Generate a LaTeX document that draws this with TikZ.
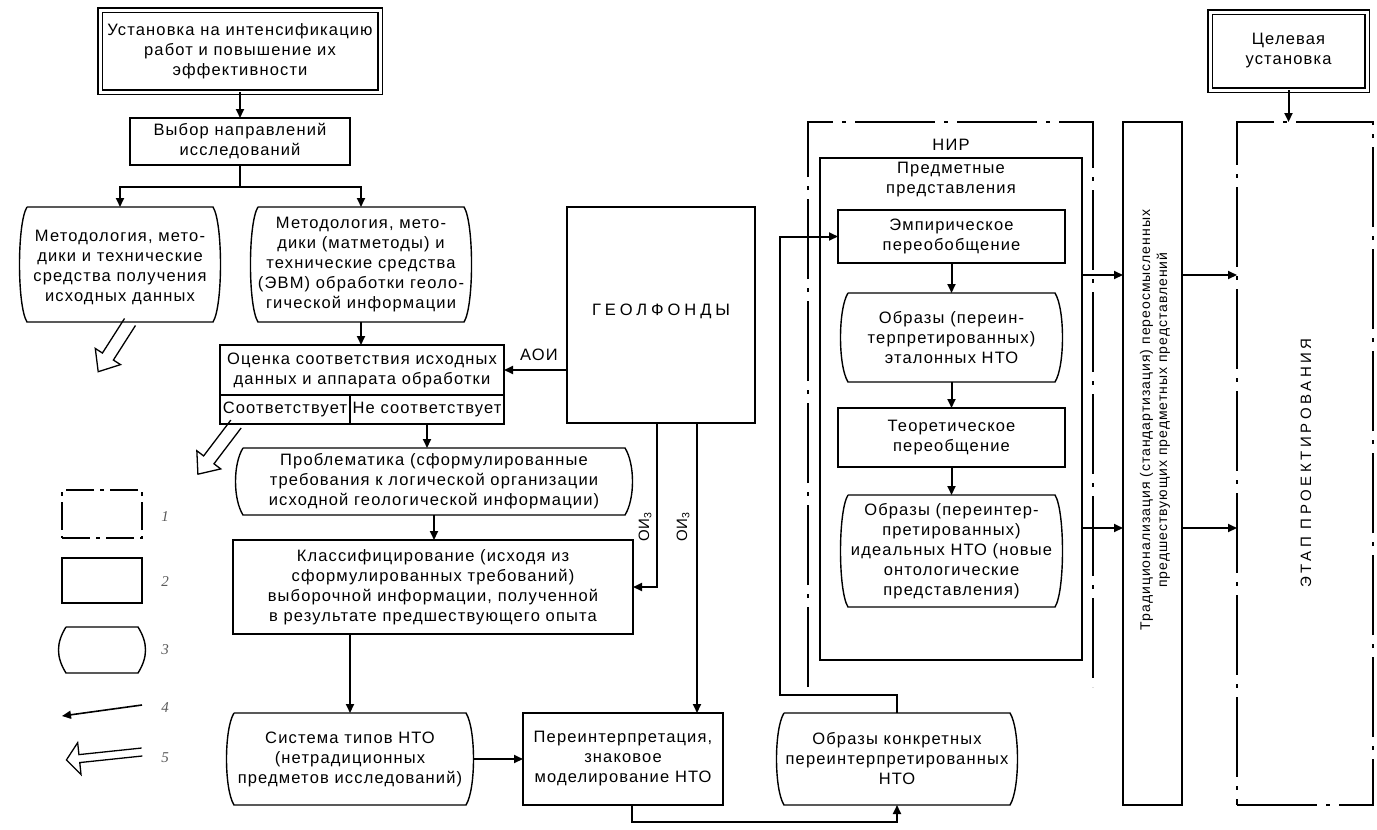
\documentclass[tikz,border=0pt]{standalone}
\usepackage{fontspec}
\setmainfont{Liberation Sans}[LetterSpace=7]
\newfontfamily\widecaps{Liberation Sans}[LetterSpace=24]
\newfontfamily\numfont{Liberation Serif}
\usetikzlibrary{arrows.meta,calc}

% open (outlined) arrow: start, canvas angle, length, shaft half-width, head half-width, head length
\newcommand\hollowarrow[6]{%
  \begin{scope}[shift={(#1)}, rotate=#2, x=1pt, y=1pt]
    \draw[hollow] (0,-#4) -- ({#3-#6},-#4) -- ({#3-#6},-#5) -- (#3,0)
      -- ({#3-#6},#5) -- ({#3-#6},#4) -- (0,#4);
  \end{scope}}

\tikzset{
  every node/.style={inner sep=0pt, outer sep=0pt},
  txt/.style={font=\fontsize{16.5pt}{20pt}\selectfont, align=center},
  box/.style={txt, draw, line width=1.4pt},
  dbox/.style={txt, draw, line width=1.3pt, double=white, double distance=3pt},
  bbox/.style={txt},
  conn/.style={line width=2pt, -{Triangle[length=9pt,width=8pt]}},
  wire/.style={line width=2pt},
  ddash/.style={line width=2.4pt, dash pattern=on 80pt off 9pt on 4pt off 9pt},
  ldash/.style={line width=2.2pt, dash pattern=on 28pt off 6pt on 4pt off 6pt},
  hollow/.style={line width=1.3pt, line join=miter},
  legnum/.style={font=\numfont\itshape\fontsize{15pt}{15pt}\selectfont, text=black!65}
}

\begin{document}
\begin{tikzpicture}[x=1pt, y=-1pt]
\useasboundingbox (0,0) rectangle (1377,830);

% ---------- left column ----------
\node[dbox, minimum width=280, minimum height=82] (top) at (240,51)
  {Установка на интенсификацию\\работ и повышение их\\эффективности};
\node[box, minimum width=220, minimum height=47] (vybor) at (240,141.5)
  {Выбор направлений\\исследований};
\node[bbox, minimum width=186, minimum height=115] (metA) at (120,264.5)
  {\mbox{}\\[-2pt]Методология, мето-\\дики и технические\\средства получения\\исходных данных};
\node[bbox, minimum width=198, minimum height=115] (metB) at (361,264.5)
  {Методология, мето-\\дики (матметоды) и\\технические средства\\(ЭВМ) обработки геоло-\\гической информации};

\node[box, minimum width=284, minimum height=50] (ots) at (362,370)
  {Оценка соответствия исходных\\данных и аппарата обработки};
\node[box, minimum width=130, minimum height=29] (sootv) at (285,409.5) {Соответствует};
\node[box, minimum width=154, minimum height=29] (nesootv) at (427,409.5) {Не соответствует};

\node[bbox, minimum width=382, minimum height=67] (problem) at (434,481.5)
  {Проблематика (сформулированные\\требования к логической организации\\исходной геологической информации)};
\node[box, minimum width=400, minimum height=94] (klass) at (433,587)
  {Классифицирование (исходя из\\сформулированных требований)\\выборочной информации, полученной\\в результате предшествующего опыта};

\node[bbox, minimum width=232, minimum height=92] (sistema) at (350,759)
  {Система типов НТО\\(нетрадиционных\\предметов исследований)};
\node[box, minimum width=200, minimum height=92] (pereint) at (623,759)
  {Переинтерпретация,\\знаковое\\моделирование НТО};
\node[bbox, minimum width=226, minimum height=92] (obrK) at (897,759)
  {Образы конкретных\\переинтерпретированных\\НТО};

\node[box, minimum width=188, minimum height=216] (geol) at (661,315)
  {\raisebox{10pt}{\widecaps ГЕОЛФОНДЫ}};
\node[txt] (aoi) at (539,355) {АОИ};
\node[txt, rotate=90, font=\fontsize{15pt}{15pt}\selectfont] (oiA) at (645,527) {ОИ\textsubscript{3}};
\node[txt, rotate=90, font=\fontsize{15pt}{15pt}\selectfont] (oiB) at (683,527) {ОИ\textsubscript{3}};

% ---------- research block ----------
\node[minimum width=285, minimum height=565] (nir) at (950.5,404.5) {};
\draw[ddash] (nir.south west) -- (nir.north west) -- (nir.north east) -- (nir.south east);
\node[txt] (nirlbl) at (951,145) {НИР};
\node[box, minimum width=262, minimum height=502] (predm) at (951,409) {};
\node[txt] (predmlbl) at (951,180) {Предметные\\представления};
\node[box, minimum width=227, minimum height=53] (emp) at (951.5,236.5)
  {Эмпирическое\\переобобщение};
\node[bbox, minimum width=207, minimum height=89] (etalon) at (951.5,337.5)
  {Образы (переин-\\терпретированных)\\эталонных НТО};
\node[box, minimum width=227, minimum height=59] (teor) at (951.5,437.5)
  {Теоретическое\\переобщение};
\node[bbox, minimum width=207, minimum height=112] (ideal) at (951.5,551)
  {Образы (переинтер-\\претированных)\\идеальных НТО (новые\\онтологические\\представления)};

% ---------- right column ----------
\node[box, minimum width=59, minimum height=683] (trad) at (1152.5,463.5) {};
\node[txt, rotate=90, font=\fontsize{14pt}{17pt}\selectfont] (tradtxt) at (1155,420)
  {Традиционализация (стандартизация) переосмысленных\\предшествующих предметных представлений};
\node[ddash, draw, minimum width=136, minimum height=683] (etap) at (1305,463.5) {};
\node[rotate=90, font=\widecaps\fontsize{15pt}{15pt}\selectfont] (etaptxt) at (1306,463) {ЭТАП ПРОЕКТИРОВАНИЯ};
\node[dbox, minimum width=157, minimum height=78] (tsel) at (1288.5,51) {Целевая\\установка};

% ---------- legend ----------
\node[ldash, draw, minimum width=80, minimum height=48] (legA) at (102,514) {};
\node[box, minimum width=80, minimum height=45] (legB) at (102,580.5) {};
\node[bbox, minimum width=72, minimum height=46] (legC) at (102,650) {};
\coordinate (l4a) at (142,705);
\coordinate (l4b) at (62,716);
\coordinate (l5) at (142,752);
\node[legnum] (n1) at (165,517) {1};
\node[legnum] (n2) at (165,582) {2};
\node[legnum] (n3) at (165,650) {3};
\node[legnum] (n4) at (165,708) {4};
\node[legnum] (n5) at (165,758) {5};

% bulged side outlines
\foreach \n in {metA,metB,problem,sistema,obrK,etalon,ideal,legC}
  \draw[line width=1.4pt] (\n.north west) -- (\n.north east)
    .. controls +(10,16) and +(10,-16) .. (\n.south east) -- (\n.south west)
    .. controls +(-10,-16) and +(-10,16) .. (\n.north west);

% ---------- connectors ----------
\draw[conn] (top) -- (vybor);
\coordinate (fork) at (vybor.south |- 0,187);
\draw[wire] (vybor.south) -- (fork);
\draw[conn] (fork) -| (metA.north);
\draw[conn] (fork) -| (metB.north);
\draw[conn] (metB.south) -- (metB.south |- ots.north);
\draw[conn] (geol.west |- ots.east) -- (ots.east);
\draw[conn] (nesootv.south) -- (nesootv.south |- problem.north);
\draw[conn] (problem.south) -- (problem.south |- klass.north);
\draw[conn] (sistema.north |- klass.south) -- (sistema.north);
\draw[conn] ([xshift=7.5pt]sistema.east) -- (pereint.west);

\coordinate (oiAtop) at ([xshift=90pt]geol.south west);
\coordinate (oiBtop) at ([xshift=130pt]geol.south west);
\draw[conn] (oiAtop) |- (klass.east);
\draw[conn] (oiBtop) -- (oiBtop |- pereint.north);

\coordinate (pb) at ([xshift=109pt]pereint.south west);
\draw[conn] (pb) -- ++(0,17) -| (obrK.south);
\coordinate (loop) at (780,695);
\draw[conn] (obrK.north) |- (loop) |- (emp.west);

\draw[conn] (emp) -- (etalon);
\draw[conn] (etalon) -- (teor);
\draw[conn] (teor) -- (ideal);

\coordinate (rowA) at (0,275);
\coordinate (rowB) at (0,528);
\draw[conn] (predm.east |- rowA) -- (trad.west |- rowA);
\draw[conn] (predm.east |- rowB) -- (trad.west |- rowB);
\draw[conn] (trad.east |- rowA) -- (etap.west |- rowA);
\draw[conn] (trad.east |- rowB) -- (etap.west |- rowB);
\draw[conn] (tsel.south) -- (tsel.south |- etap.north);

% open arrows
\hollowarrow{[xshift=10pt]metA.south}{237.4}{59}{6.5}{15}{18}
\hollowarrow{[xshift=-49pt]sootv.south}{232.8}{63}{6.5}{15}{18}
\draw[conn, line width=1.6pt] (l4a) -- (l4b);
\hollowarrow{l5}{186}{76}{4}{16}{13}
\end{tikzpicture}
\end{document}
